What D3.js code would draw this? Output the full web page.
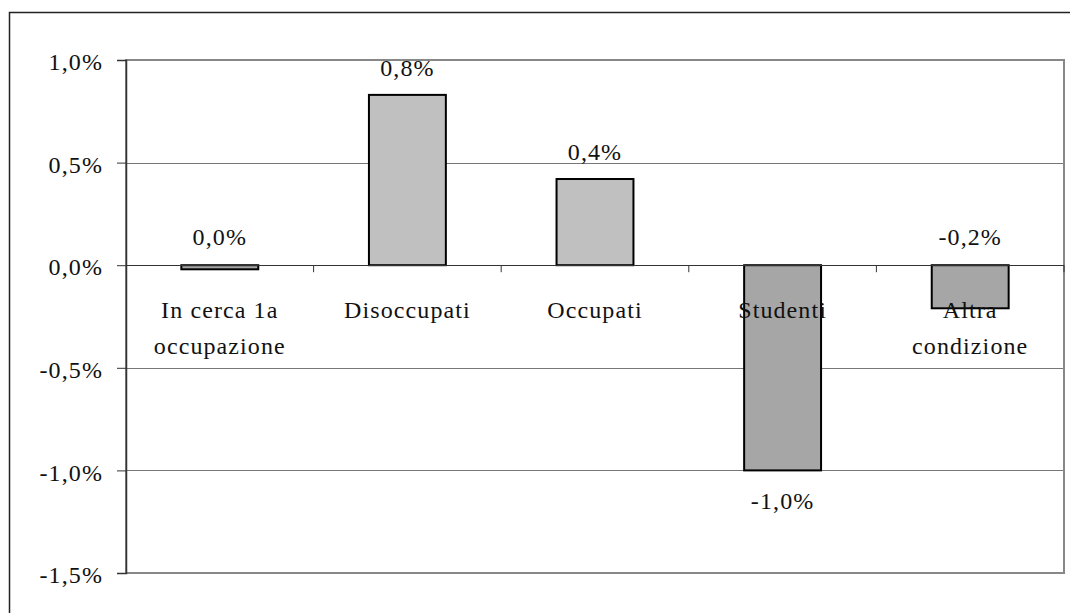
<!DOCTYPE html>
<html><head><meta charset="utf-8">
<script src="https://cdn.jsdelivr.net/npm/d3@7"></script>
<style>body{margin:0;background:#fff}svg{display:block}text{font-family:"Liberation Serif","Times New Roman",serif;fill:#111;letter-spacing:1.1px}</style>
</head><body><svg id="c" width="1070" height="613"></svg>
<script>
const categories=[["In cerca 1a","occupazione"],["Disoccupati"],["Occupati"],["Studenti"],["Altra","condizione"]];
const values=[-0.0002,0.0083,0.0042,-0.0100,-0.0021];
const labels=["0,0%","0,8%","0,4%","-1,0%","-0,2%"];
const yTicks=[-0.015,-0.01,-0.005,0,0.005,0.01];
const fmt=v=>d3.format(".1%")(v).replace(".",",").replace("−","-");

const svg=d3.select("#c");
const L=126,R=1064,T=60,B=573;
const FS=24;
const x=d3.scaleBand().domain(d3.range(categories.length)).range([L,R]).paddingInner(0.59).paddingOuter(0.295);
const y=d3.scaleLinear().domain([-0.015,0.01]).range([B,T]);

// outer frame
svg.append("rect").attr("x",9.5).attr("y",12.5).attr("width",1075).attr("height",615).attr("fill","none").attr("stroke","#222").attr("stroke-width",1.5);

// gridlines
svg.append("g").selectAll("line").data(yTicks).join("line")
 .attr("x1",L).attr("x2",R).attr("y1",d=>Math.round(y(d))+0.5).attr("y2",d=>Math.round(y(d))+0.5)
 .attr("stroke","#777").attr("stroke-width",1.2);
// plot border
svg.append("rect").attr("x",L).attr("y",T).attr("width",R-L).attr("height",B-T).attr("fill","none").attr("stroke","#888").attr("stroke-width",2);

// y axis
const ya=svg.append("g").attr("transform",`translate(${L},0)`).call(d3.axisLeft(y).tickValues(yTicks).tickFormat(fmt).tickSize(9).tickPadding(14));
ya.select(".domain").attr("stroke","#333").attr("stroke-width",1.5);
ya.selectAll(".tick line").attr("stroke","#333");
ya.selectAll("text").attr("font-size",FS).attr("font-family","Liberation Serif").attr("fill","#111").attr("dy","0.4em");

// bars
svg.append("g").selectAll("rect").data(values).join("rect")
 .attr("x",(d,i)=>x(i)).attr("width",x.bandwidth())
 .attr("y",d=>Math.min(y(d),y(0))).attr("height",d=>Math.abs(y(d)-y(0)))
 .attr("fill",d=>d>=0?"#c0c0c0":"#a6a6a6").attr("stroke","#000").attr("stroke-width",2);

// zero axis line + category ticks
const y0=Math.round(y(0))+0.5;
svg.append("line").attr("x1",L).attr("x2",R).attr("y1",y0).attr("y2",y0).attr("stroke","#333").attr("stroke-width",1.2);
const step=(R-L)/categories.length;
svg.append("g").selectAll("line").data(d3.range(1,categories.length+1)).join("line")
 .attr("x1",i=>L+i*step).attr("x2",i=>L+i*step).attr("y1",y(0)).attr("y2",y(0)+7).attr("stroke","#333");

// category labels
const cg=svg.append("g");
categories.forEach((lines,i)=>{
  const cx=x(i)+x.bandwidth()/2;
  const t=cg.append("text").attr("x",cx).attr("y",y(0)+53).attr("text-anchor","middle").attr("font-size",FS);
  lines.forEach((s,j)=>t.append("tspan").attr("x",cx).attr("dy",j?36:0).text(s));
});

// value labels
svg.append("g").selectAll("text").data(values).join("text")
 .attr("x",(d,i)=>x(i)+x.bandwidth()/2)
 .attr("y",(d,i)=>{ if(d>=0) return y(d)-19; if(d<-0.005) return y(d)+39; return y(0)-20; })
 .attr("text-anchor","middle").attr("font-size",FS)
 .text((d,i)=>labels[i]);
</script></body></html>
